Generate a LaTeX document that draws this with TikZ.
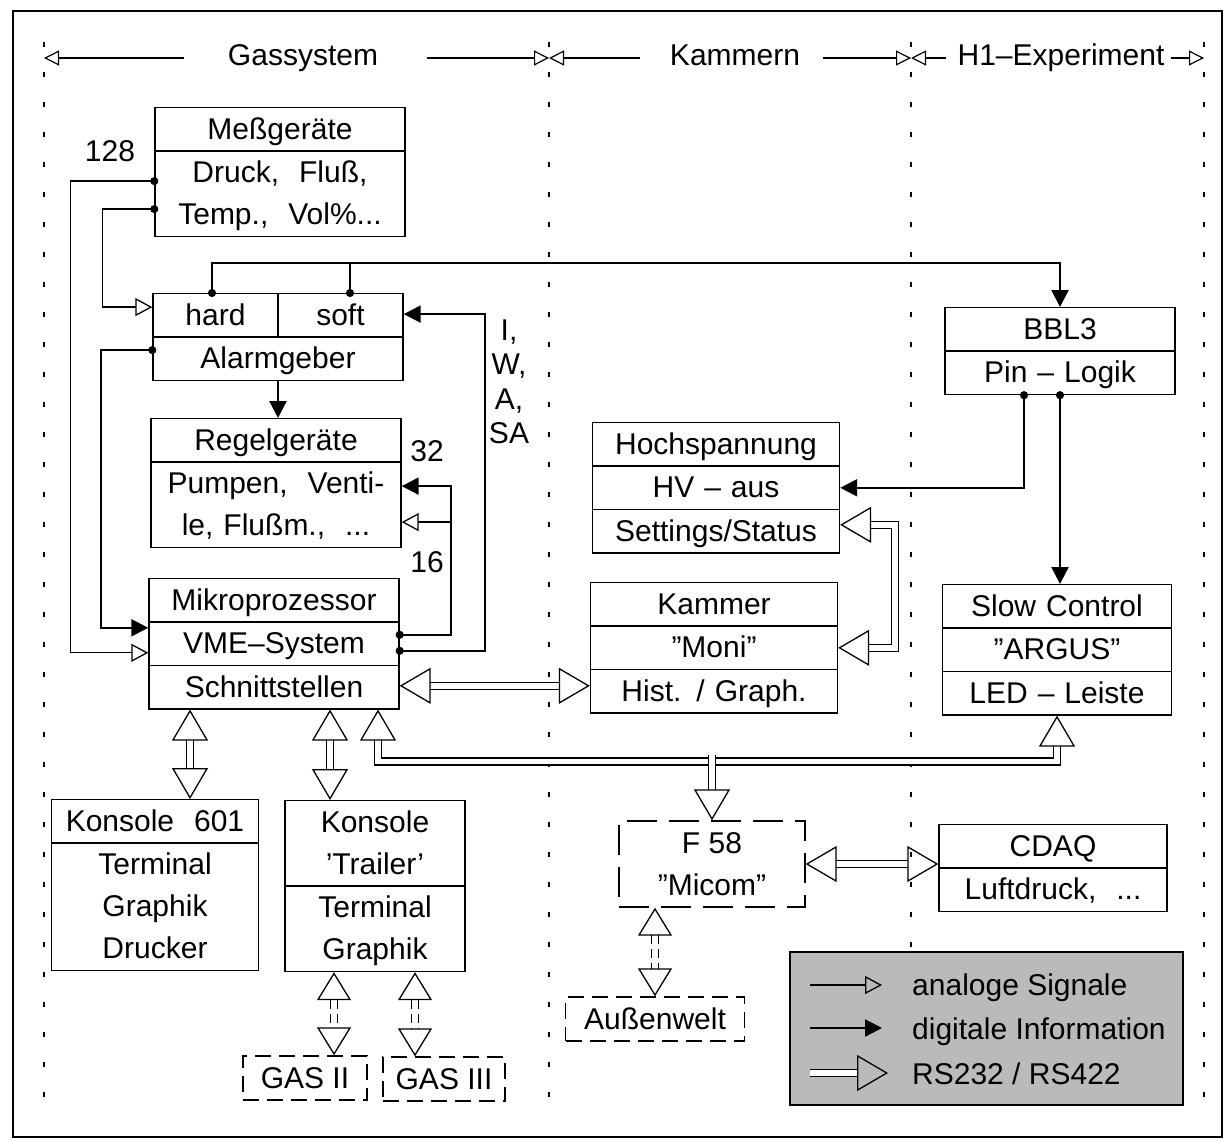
\documentclass[tikz,border=0pt]{standalone}
\usepackage{fontspec}
\setmainfont{Liberation Sans}
\usetikzlibrary{arrows.meta,shapes.multipart}

\newcommand{\rs}{\rule[-11pt]{0pt}{42pt}}

\tikzset{
  ao/.tip={Triangle[open,length=17pt,width=18pt,line width=1.3pt]},
  af/.tip={Triangle[length=17pt,width=17pt]},
  dt/.tip={Circle[length=8pt]},
  big/.tip={Triangle[open,length=31pt,width=36pt,line width=1.3pt]},
  sbig/.tip={Triangle[open,length=28pt,width=34pt,line width=1.3pt]},
  ht/.tip={Triangle[open,length=15pt,width=15pt,line width=1.2pt]},
  box/.style={rectangle split, draw, line width=1.4pt, inner sep=0pt, text width=#1, align=center},
  dbox/.style={draw, line width=1.4pt, dash pattern=on 16pt off 8pt, inner sep=0pt, minimum width=#1, minimum height=44pt, align=center},
  ana/.style={line width=1.3pt, -ao},
  dig/.style={line width=2.2pt, -af},
  rsl/.style={double, double distance=5.7pt, line width=1.3pt, big-big},
  rsd/.style={rsl, dash pattern=on 9pt off 5pt, sbig-sbig},
  hd/.style={line width=1.2pt, -ht},
  sep/.style={line width=1.5pt, dash pattern=on 5pt off 25pt},
}

\begin{document}
\begin{tikzpicture}[x=1pt,y=1pt,yscale=-1,inner sep=0pt,font=\fontsize{30pt}{42pt}\selectfont]
\useasboundingbox (0,0) rectangle (1225,1140);

%Frame
\draw [line width=1.5pt] (13,11) rectangle (1222,1137);

%Section borders
\coordinate (d0) at (44,58);
\coordinate (d1) at (549,58);
\coordinate (d2) at (911,58);
\coordinate (d3) at (1204,58);
\draw [sep] ([yshift=-16pt]d0) -- ([yshift=1049pt]d0);
\draw [sep] ([yshift=-16pt]d1) -- ([yshift=1049pt]d1);
\draw [sep] ([yshift=-16pt]d2) -- ([yshift=1049pt]d2);
\draw [sep] ([yshift=-16pt]d3) -- ([yshift=1049pt]d3);

%Section titles
\node [text height=22pt,text depth=6pt] (hgas) at (303,58) {Gassystem};
\node [text height=22pt,text depth=6pt] (hkam) at (735,58) {Kammern};
\node [text height=22pt,text depth=6pt] (hh1) at (1061,58) {H1--Experiment};
\draw [hd] ([xshift=-44pt]hgas.west) -- (d0);
\draw [hd] ([xshift=49pt]hgas.east) -- (d1);
\draw [hd] ([xshift=-30pt]hkam.west) -- (d1);
\draw [hd] ([xshift=23pt]hkam.east) -- (d2);
\draw [hd] ([xshift=-11pt]hh1.west) -- (d2);
\draw [hd] ([xshift=6pt]hh1.east) -- (d3);

%Gassystem
\node [box=250pt, rectangle split parts=2, anchor=north] (mess) at (280,107)
  {Meßgeräte\rs \nodepart{two} Druck, \ Fluß,\rs\\Temp., \ Vol\%...\rs};
\node [box=250pt, rectangle split parts=2, anchor=north] (alarm) at (278,293)
  {\makebox[125pt]{hard}\makebox[125pt]{soft}\rs \nodepart{two} Alarmgeber\rs};
\draw [line width=1.4pt] (alarm.north) -- (alarm.text split);
\node [box=250pt, rectangle split parts=2, anchor=north] (regel) at (276,418)
  {Regelgeräte\rs \nodepart{two} Pumpen, \ Venti-\rs\\le, Flußm., \ ...\rs};
\node [box=250pt, rectangle split parts=3, anchor=north] (mikro) at (274,578)
  {Mikroprozessor\rs \nodepart{two} VME--System\rs \nodepart{three} Schnittstellen\rs};
\node [box=207pt, rectangle split parts=2, anchor=north] (kons1) at (155,799)
  {Konsole \ 601\rs \nodepart{two} Terminal\rs\\Graphik\rs\\Drucker\rs};
\node [box=180pt, rectangle split parts=2, anchor=north] (kons2) at (375,800)
  {Konsole\rs\\'Trailer'\rs \nodepart{two} Terminal\rs\\Graphik\rs};
\node [dbox=124pt] (gas2) at (305,1078) {GAS II\rs};
\node [dbox=122pt] (gas3) at (444,1079) {GAS III\rs};

%Kammern
\node [box=247pt, rectangle split parts=3, anchor=north] (hv) at (716,422)
  {Hochspannung\rs \nodepart{two} HV -- aus\rs \nodepart{three} Settings/Status\rs};
\node [box=247pt, rectangle split parts=3, anchor=north] (kammer) at (714,582)
  {Kammer\rs \nodepart{two} ''Moni''\rs \nodepart{three} Hist. / Graph.\rs};
\node [dbox=186pt, minimum height=86pt, dash pattern=on 30pt off 12pt] (f58) at (712,864)
  {F 58\rs\\''Micom''\rs};
\node [dbox=179pt] (welt) at (655,1019) {Außenwelt\rs};

%H1-Experiment
\node [box=230pt, rectangle split parts=2, anchor=north] (bbl) at (1060,307)
  {BBL3\rs \nodepart{two} Pin -- Logik\rs};
\node [box=229pt, rectangle split parts=3, anchor=north] (slow) at (1057,584)
  {Slow Control\rs \nodepart{two} ''ARGUS''\rs \nodepart{three} LED -- Leiste\rs};
\node [box=228pt, rectangle split parts=2, anchor=north] (cdaq) at (1053,824)
  {CDAQ\rs \nodepart{two} Luftdruck, \ ...\rs};

%Numbers
\node (n128) at (110,151) {128};
\node (n32) at (427,451) {32};
\node (n16) at (427,562) {16};
\node [align=center, font=\fontsize{30pt}{34.5pt}\selectfont] (niw) at (509,382) {I,\\W,\\A,\\SA};

%Analoge / digitale Leitungen
\draw [ana, dt-ao, shorten <=-4pt] ([yshift=9pt]mess.west) -- ++(-84,0) |- ([yshift=9pt]mikro.west);
\draw [ana, dt-ao, shorten <=-4pt] ([yshift=37pt]mess.west) -- ++(-52,0) |- ([yshift=-30pt]alarm.west);
\draw [dig, dt-af, shorten <=-4pt] ([yshift=13pt]alarm.west) -- ++(-51,0) |- ([yshift=-16pt]mikro.west);
\draw [dig, dt-af, shorten <=-4pt] ([xshift=-66pt]alarm.north) -- ++(0,-30) -| (bbl.north);
\draw [dig, dt-, shorten <=-4pt] ([xshift=72pt]alarm.north) -- ++(0,-30);
\draw [dig] (alarm.south) -- (alarm.south |- regel.north);
\draw [dig, dt-af, shorten <=-4pt] ([yshift=-9pt]mikro.east) -- ++(51,0) |- ([yshift=3pt]regel.east);
\draw [ana] ([xshift=49pt,yshift=39pt]regel.east) -- ([yshift=39pt]regel.east);
\draw [dig, dt-af, shorten <=-4pt] ([yshift=7pt]mikro.east) -- ++(85,0) |- ([yshift=-23pt]alarm.east);
\draw [dig, dt-af, shorten <=-4pt] ([xshift=-36pt]bbl.south) |- (hv.east);
\draw [dig, dt-af, shorten <=-4pt] (bbl.south) -- (bbl.south |- slow.north);

%RS232 / RS422
\draw [rsl] ([yshift=37pt]hv.east) -- ++(55,0) |- (kammer.east);
\draw [rsl] ([yshift=42pt]mikro.east) -- ([yshift=42pt]mikro.east -| kammer.west);
\draw [rsl] ([xshift=-84pt]mikro.south) -- ([xshift=-84pt]mikro.south |- kons1.north);
\draw [rsl] ([xshift=56pt]mikro.south) -- ([xshift=56pt]mikro.south |- kons2.north);
\draw [rsl] ([xshift=104pt]mikro.south) -- ++(0,52) -| (slow.south);
\draw [rsl, -big] ([yshift=-65pt]f58.north) -- (f58.north);
\draw [rsl] (f58.east) -- (f58.east -| cdaq.west);
\draw [rsd] ([xshift=-41pt]kons2.south) -- ([xshift=-41pt]kons2.south |- gas2.north);
\draw [rsd] ([xshift=40pt]kons2.south) -- ([xshift=40pt]kons2.south |- gas3.north);
\draw [rsd] ([xshift=-57pt]f58.south) -- (welt.north);

%Legende
\draw [line width=1.3pt, fill=black!27] (790,952) rectangle (1183,1105);
\coordinate (la1) at (810,985);
\coordinate (lb1) at (882,985);
\coordinate (la2) at (810,1028);
\coordinate (lb2) at (882,1028);
\coordinate (la3) at (810,1073);
\coordinate (lb3) at (888,1073);
\draw [ana] (la1) -- (lb1);
\draw [dig] (la2) -- (lb2);
\draw [rsl, -big] (la3) -- (lb3);
\node [anchor=base west] (t1) at (912,995) {analoge Signale};
\node [anchor=base west] (t2) at (912,1039) {digitale Information};
\node [anchor=base west] (t3) at (912,1084) {RS232 / RS422};
\end{tikzpicture}
\end{document}
